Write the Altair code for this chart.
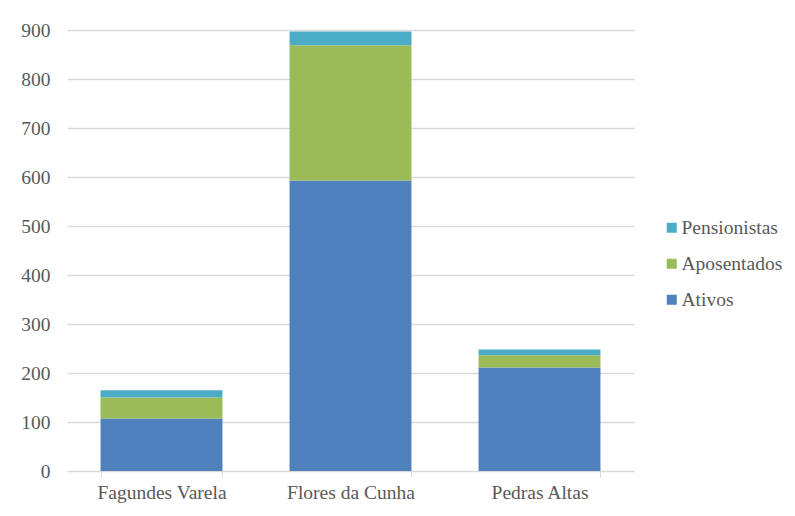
import altair as alt
import pandas as pd

municipios = ["Fagundes Varela", "Flores da Cunha", "Pedras Altas"]
ativos = [107, 593, 211]
aposentados = [43, 276, 25]
pensionistas = [15, 28, 12]

series = ["Pensionistas", "Aposentados", "Ativos"]
colors = ["#4BACC6", "#9BBB59", "#4F81BD"]
stack_rank = {"Ativos": 0, "Aposentados": 1, "Pensionistas": 2}

rows = []
for i, m in enumerate(municipios):
    for s, vals in zip(["Ativos", "Aposentados", "Pensionistas"], [ativos, aposentados, pensionistas]):
        rows.append({"Municipio": m, "Serie": s, "Valor": vals[i], "ordem": stack_rank[s]})
df = pd.DataFrame(rows)

font = "Liberation Serif"
fs = 19.5

chart = alt.Chart(df).mark_bar().encode(
    x=alt.X("Municipio:N", sort=municipios, title=None,
            scale=alt.Scale(paddingInner=0.355, paddingOuter=0.1775),
            axis=alt.Axis(labelAngle=0, tickBand="extent", domainColor="#D9D9D9",
                          tickColor="#D9D9D9", tickSize=6, labelPadding=6,
                          labelFontSize=fs, labelColor="#595959", labelFont=font,
                          grid=False)),
    y=alt.Y("Valor:Q", title=None, stack="zero",
            scale=alt.Scale(domain=[0, 900], nice=False),
            axis=alt.Axis(values=list(range(0, 901, 100)), domain=False, ticks=False,
                          gridColor="#D9D9D9", gridWidth=1.3, labelPadding=17,
                          labelFontSize=fs, labelColor="#595959", labelFont=font)),
    color=alt.Color("Serie:N",
                    scale=alt.Scale(domain=series, range=colors),
                    legend=alt.Legend(title=None, orient="none", legendX=595, legendY=188,
                                      symbolType="square", symbolSize=100, symbolStrokeWidth=0,
                                      labelFontSize=fs, labelColor="#595959", labelFont=font,
                                      rowPadding=15, labelOffset=0)),
    order=alt.Order("ordem:Q", sort="ascending"),
).properties(
    width=567, height=441,
    autosize=alt.AutoSizeParams(type="none"),
    padding={"left": 59, "top": 22, "right": 152, "bottom": 34},
).configure(
    background="white", font=font
).configure_view(stroke=None).configure_axis(labelFont=font).configure_legend(labelFont=font)

chart.save("out.html", embed_options={"renderer": "svg", "actions": False})
